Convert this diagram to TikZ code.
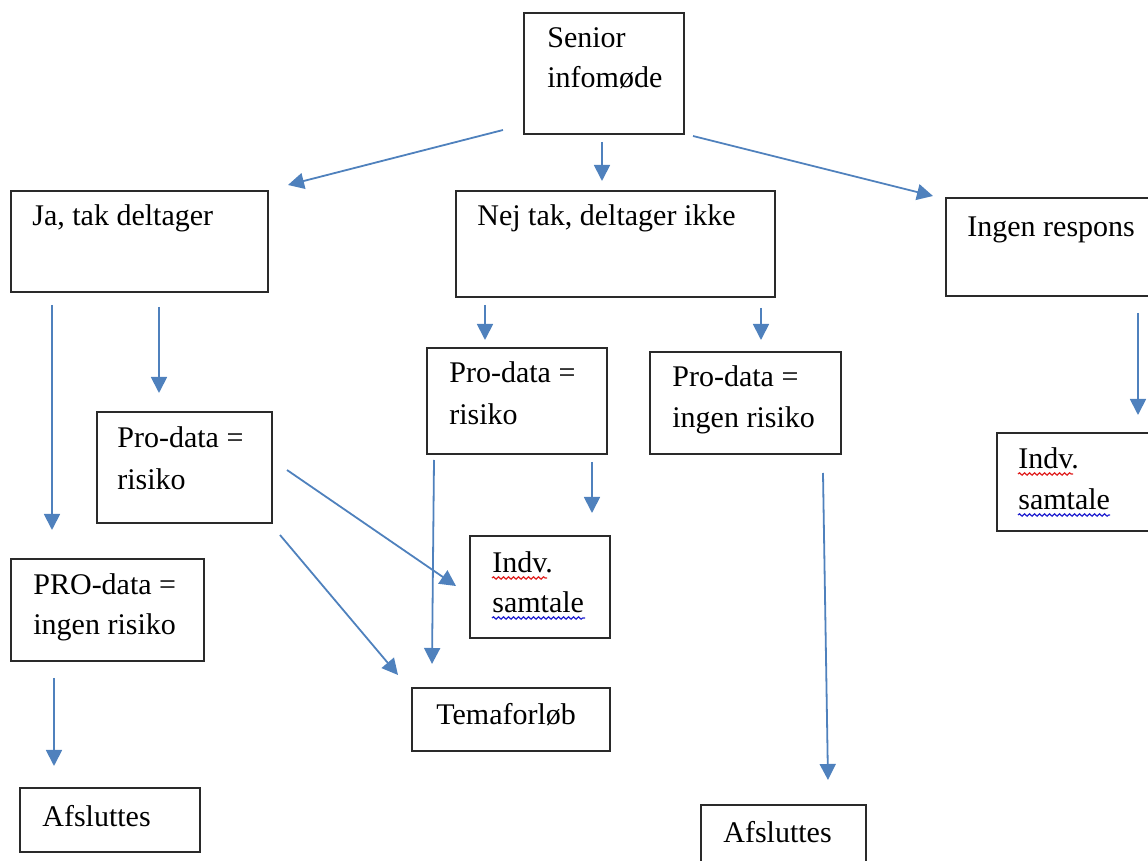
\documentclass[tikz,border=0pt]{standalone}
\usepackage{fontspec}
\setmainfont{Liberation Serif}
\usetikzlibrary{arrows.meta,fit,decorations.pathmorphing}
\definecolor{arrblue}{HTML}{4F81BD}
\definecolor{boxline}{HTML}{2A2A2A}
\definecolor{spellred}{HTML}{E02020}
\definecolor{spellblue}{HTML}{2020D0}
\tikzset{
  box/.style={draw=boxline, line width=0.8pt, rectangle, inner sep=0pt},
  txt/.style={anchor=base west, inner sep=0pt, font=\fontsize{15}{18}\selectfont, text=black},
  arr/.style={draw=arrblue, line width=0.9pt, -{Triangle[length=8pt,width=8pt]}},
  squig/.style={line width=0.6pt, decorate, decoration={snake, amplitude=0.6pt, segment length=2.5pt}},
}
\begin{document}
\begin{tikzpicture}[x=0.5pt,y=-0.5pt]
\useasboundingbox (0,0) rectangle (1148,861);
\clip (0,0) rectangle (1148,861);
% boxes
\node[box, fit={(524,13) (684,134)}] (senior) {};
\node[box, fit={(11,191) (268,292)}] (ja) {};
\node[box, fit={(456,191) (775,297)}] (nej) {};
\node[box, fit={(946,198) (1165,296)}] (ingen) {};
\node[box, fit={(97,412) (272,523)}] (pdrL) {};
\node[box, fit={(11,559) (204,661)}] (pdiL) {};
\node[box, fit={(20,788) (200,852)}] (afsL) {};
\node[box, fit={(427,348) (607,454)}] (pdrM) {};
\node[box, fit={(650,352) (841,454)}] (pdiM) {};
\node[box, fit={(470,536) (610,638)}] (indvM) {};
\node[box, fit={(412,688) (610,751)}] (tema) {};
\node[box, fit={(701,805) (866,880)}] (afsR) {};
\node[box, fit={(997,433) (1165,531)}] (indvR) {};
% texts
\node[txt] (t1a) at (547,48) {Senior};
\node[txt] (t1b) at (547,88) {infomøde};
\node[txt] (t2) at (32,226) {Ja, tak deltager};
\node[txt] (t3) at (477,226) {Nej tak, deltager ikke};
\node[txt] (t4) at (967,237) {Ingen respons};
\node[txt] (t5a) at (117,448) {Pro-data =};
\node[txt] (t5b) at (117,490) {risiko};
\node[txt] (t6a) at (33,595) {PRO-data =};
\node[txt] (t6b) at (33,635) {ingen risiko};
\node[txt] (t7) at (42,827) {Afsluttes};
\node[txt] (t8a) at (449,383) {Pro-data =};
\node[txt] (t8b) at (449,425) {risiko};
\node[txt] (t9a) at (672,387) {Pro-data =};
\node[txt] (t9b) at (672,428) {ingen risiko};
\node[txt] (t10a) at (492,573) {Indv.};
\node[txt] (t10b) at (492,613) {samtale};
\node[txt] (t11) at (436,725) {Temaforløb};
\node[txt] (t12) at (723,842) {Afsluttes};
\node[txt] (t13a) at (1018,469) {Indv.};
\node[txt] (t13b) at (1018,510) {samtale};
% spell-check underlines
\draw[squig, spellred] (t10a.base west) ++(0,5) -- ++(55,0);
\draw[squig, spellblue] (t10b.base west) ++(0,5) -- ++(93,0);
\draw[squig, spellred] (t13a.base west) ++(0,5) -- ++(55,0);
\draw[squig, spellblue] (t13b.base west) ++(0,5) -- ++(92,0);
% connector end points
\coordinate (a1s) at (503,130); \coordinate (a1e) at (288,185);
\coordinate (a2s) at (602,142); \coordinate (a2e) at (602,181);
\coordinate (a3s) at (693,136); \coordinate (a3e) at (933,196);
\coordinate (a4s) at (52,305);  \coordinate (a4e) at (52,530);
\coordinate (a5s) at (159,307); \coordinate (a5e) at (159,393);
\coordinate (a6s) at (485,305); \coordinate (a6e) at (485,340);
\coordinate (a7s) at (761,308); \coordinate (a7e) at (761,340);
\coordinate (a8s) at (1138,313); \coordinate (a8e) at (1138,415);
\coordinate (a9s) at (287,470); \coordinate (a9e) at (456,586);
\coordinate (a10s) at (280,535); \coordinate (a10e) at (398,675);
\coordinate (a11s) at (434,460); \coordinate (a11e) at (432,664);
\coordinate (a12s) at (592,462); \coordinate (a12e) at (592,513);
\coordinate (a13s) at (54,678); \coordinate (a13e) at (54,766);
\coordinate (a14s) at (823,473); \coordinate (a14e) at (828,780);
% connectors
\draw[arr] (a1s) -- (a1e);
\draw[arr] (a2s) -- (a2e);
\draw[arr] (a3s) -- (a3e);
\draw[arr] (a4s) -- (a4e);
\draw[arr] (a5s) -- (a5e);
\draw[arr] (a6s) -- (a6e);
\draw[arr] (a7s) -- (a7e);
\draw[arr] (a8s) -- (a8e);
\draw[arr] (a9s) -- (a9e);
\draw[arr] (a10s) -- (a10e);
\draw[arr] (a11s) -- (a11e);
\draw[arr] (a12s) -- (a12e);
\draw[arr] (a13s) -- (a13e);
\draw[arr] (a14s) -- (a14e);
\end{tikzpicture}
\end{document}
